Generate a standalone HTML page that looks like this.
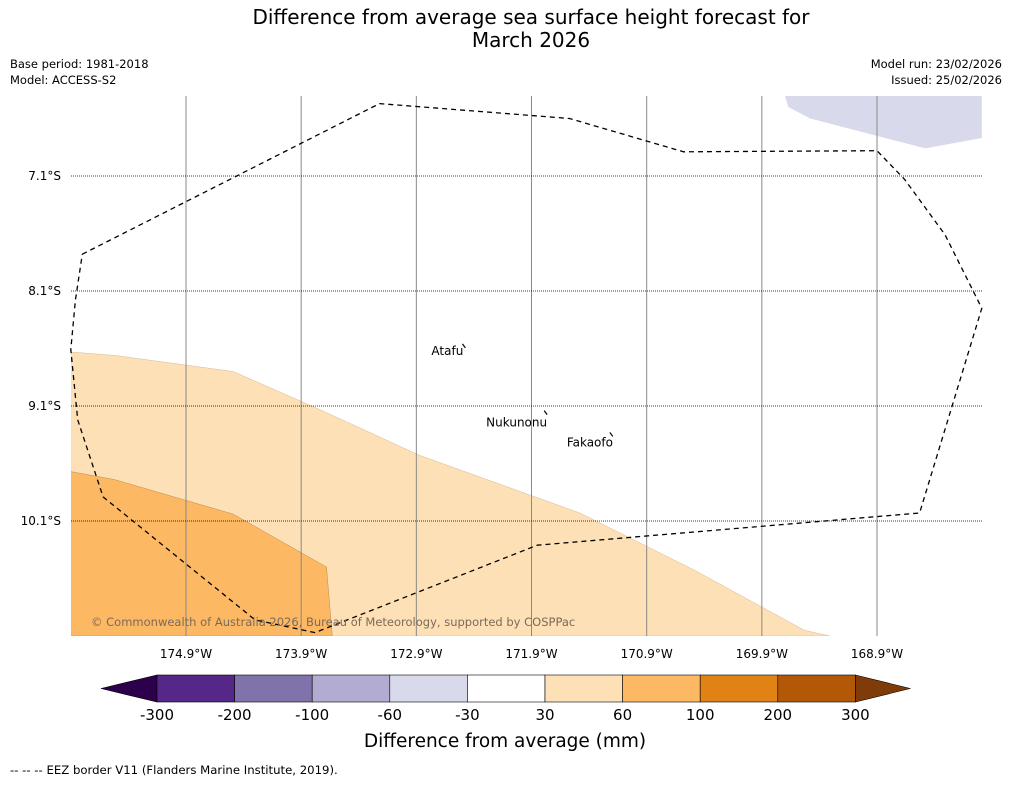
<!DOCTYPE html>
<html><head><meta charset="utf-8">
<style>
body{margin:0;background:#fff;font-family:"Liberation Sans","DejaVu Sans",sans-serif;}
svg text{font-family:"DejaVu Sans","Liberation Sans",sans-serif;}
</style></head>
<body>
<svg id="c" width="1011" height="781" xmlns="http://www.w3.org/2000/svg">
<rect width="1011" height="781" fill="#fff"/>
<text x="531" y="24" font-size="20" text-anchor="middle">Difference from average sea surface height forecast for</text>
<text x="531" y="47" font-size="20" text-anchor="middle">March 2026</text>
<text x="10" y="68" font-size="11.5">Base period: 1981-2018</text>
<text x="10" y="84" font-size="11.5">Model: ACCESS-S2</text>
<text x="1002" y="68" font-size="11.5" text-anchor="end">Model run: 23/02/2026</text>
<text x="1002" y="84" font-size="11.5" text-anchor="end">Issued: 25/02/2026</text>
<defs><clipPath id="mc"><rect x="71" y="96" width="911" height="540"/></clipPath></defs>
<g id="map" clip-path="url(#mc)"></g>
<g id="grid"></g>
<g id="cbar"></g>
<text x="505" y="747" font-size="18.5" text-anchor="middle">Difference from average (mm)</text>
<text x="10" y="774" font-size="11.7">--  --  -- EEZ border V11 (Flanders Marine Institute, 2019).</text>
</svg>
<script>
const lonTicks=[174.9,173.9,172.9,171.9,170.9,169.9,168.9];
const latTicks=[7.1,8.1,9.1,10.1];
const levelLabels=["-300","-200","-100","-60","-30","30","60","100","200","300"];
const levelColors=["#542788","#8073ac","#b2abd2","#d8daeb","#ffffff","#fee0b6","#fdb863","#e08214","#b35806"];
const lowColor="#2d004b", highColor="#7f3b08";
const lightOrange=[[175.9,8.63],[175.52,8.66],[174.49,8.8],[173.74,9.13],[172.87,9.53],[171.48,10.03],[170.48,10.53],[169.53,11.05],[169.31,11.1],[175.9,11.1]];
const midOrange=[[175.9,9.67],[175.52,9.74],[174.49,10.04],[173.68,10.5],[173.63,11.1],[175.9,11.1]];
const lavender=[[169.7,6.4],[169.67,6.5],[169.48,6.6],[168.48,6.86],[167.99,6.77],[167.99,6.4]];
const eez=[[175.8,7.78],[173.22,6.47],[171.57,6.6],[170.58,6.89],[168.9,6.88],[168.66,7.13],[168.31,7.61],[167.99,8.25],[168.53,10.03],[171.85,10.31],[173.78,11.07],[174.3,10.96],[175.62,9.89],[175.84,9.22],[175.9,8.61],[175.86,8.18],[175.8,7.78]];
const islands=[["Atafu",172.5,8.56,-31,11],["Nukunonu",171.79,9.14,-58,16],["Fakaofo",171.22,9.33,-43,14]];
const NS="http://www.w3.org/2000/svg";
const X=w=>186+(174.9-w)*115.17, Y=s=>176+(s-7.1)*115;
function mk(t,a,p){const e=document.createElementNS(NS,t);for(const k in a)e.setAttribute(k,a[k]);p.appendChild(e);return e;}
const map=document.getElementById('map'),grid=document.getElementById('grid'),cb=document.getElementById('cbar');
const pts=a=>a.map(p=>X(p[0]).toFixed(1)+","+Y(p[1]).toFixed(1)).join(" ");
let e;
e=mk('polygon',{points:pts(lightOrange),fill:"#fee0b6",stroke:"#c9a98a","stroke-width":0.4},map);


e=mk('polygon',{points:pts(midOrange),fill:"#fdb863",stroke:"#b07a3a","stroke-width":0.4},map);


e=mk('polygon',{points:pts(lavender),fill:"#d8daeb"},map);


lonTicks.forEach(w=>{
 e=mk('line',{x1:X(w),x2:X(w),y1:96,y2:636,stroke:"#888","stroke-width":1},grid);
 
 
 e=mk('text',{x:X(w),y:658,"font-size":12,"text-anchor":"middle"},grid);e.textContent=w.toFixed(1)+"°W";
 
 
});
latTicks.forEach(s=>{
 e=mk('line',{x1:71,x2:982,y1:Y(s),y2:Y(s),stroke:"#000","stroke-width":0.8,"stroke-dasharray":"1,1"},grid);
 
 
 e=mk('text',{x:61,y:Y(s)+4,"font-size":12,"text-anchor":"end"},grid);e.textContent=s.toFixed(1)+"°S";
 
 
});
e=mk('polyline',{points:pts(eez),fill:"none",stroke:"#000","stroke-width":1.3,"stroke-dasharray":"5,4"},grid);


islands.forEach(i=>{
 const x=X(i[1]),y=Y(i[2]);
 e=mk('path',{d:`M${x},${y} L${x+3},${y+4}`,stroke:"#000","stroke-width":1.2},grid);
 
 
 e=mk('text',{x:x+i[3],y:y+i[4],"font-size":12},grid);e.textContent=i[0];
 
 
});
e=mk('text',{x:91,y:626,"font-size":11.5,fill:"#7a6a5a"},grid);e.textContent="© Commonwealth of Australia 2026, Bureau of Meteorology, supported by COSPPac";


// colorbar
const cx0=157,cw=77.6,cy=675,ch=27;
e=mk('polygon',{points:`101,${cy+ch/2} ${cx0},${cy} ${cx0},${cy+ch}`,fill:lowColor,stroke:"#000","stroke-width":0.6},cb);


levelColors.forEach((c,i)=>{
 e=mk('rect',{x:cx0+i*cw,y:cy,width:cw,height:ch,fill:c,stroke:"#000","stroke-width":0.6},cb);
 
 
});
const xe=cx0+levelColors.length*cw;
e=mk('polygon',{points:`${xe},${cy} ${xe+55},${cy+ch/2} ${xe},${cy+ch}`,fill:highColor,stroke:"#000","stroke-width":0.6},cb);


levelLabels.forEach((l,i)=>{
 e=mk('text',{x:cx0+i*cw,y:720,"font-size":15,"text-anchor":"middle"},cb);e.textContent=l;
 
 
});
</script>
</body></html>
